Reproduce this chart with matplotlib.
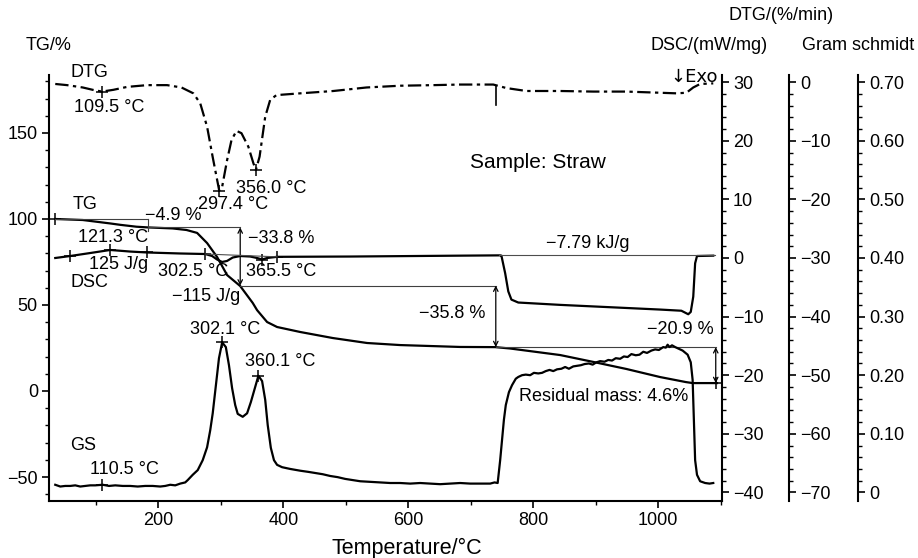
import matplotlib
matplotlib.use('Agg')
import matplotlib.pyplot as plt
from matplotlib.ticker import MultipleLocator, FuncFormatter

plt.rcParams['font.family'] = ['Liberation Sans', 'DejaVu Sans']
plt.rcParams['axes.unicode_minus'] = True

# --- data ------------------------------------------------------------------
# DTG (%/min), dash-dot curve
dtg_T = [35, 54, 79, 95, 109.5, 128, 150, 182, 214, 237, 256, 267, 278, 287,
         297.4, 302, 310, 317, 325, 333, 344, 352, 356, 362, 371, 379, 389,
         427, 480, 533, 587, 640, 683, 736, 757, 789, 843, 896, 949, 1003,
         1029, 1045, 1056, 1067, 1088]
dtg_val = [-0.3, -0.5, -0.9, -1.3, -1.6, -1.3, -0.8, -0.5, -0.5, -0.9, -1.9,
           -3.6, -7.6, -12.8, -18.5, -17.9, -13.3, -9.9, -8.3, -8.7, -11.0,
           -13.8, -15.0, -12.7, -5.9, -3.0, -2.2, -1.9, -1.5, -0.9, -0.6, -0.5,
           -0.4, -0.4, -1.0, -1.5, -1.5, -1.6, -1.6, -1.8, -1.9, -1.8, -0.9,
           -0.3, -0.2]
dtg_spike_T = [741, 741]
dtg_spike_val = [-0.6, -3.9]
dtg_peaks_T = [109.5, 297.4, 356.0]
dtg_peaks_val = [-1.6, -18.5, -15.0]

# TG (%)
tg_T = [35, 79, 123, 139, 165, 183, 223, 245, 262, 278, 294, 310, 331, 351,
        358, 374, 390, 427, 479, 534, 587, 683, 739, 763, 843, 896, 949, 1003,
        1044, 1055, 1094]
tg_val = [100, 99.4, 97.4, 96.6, 95.5, 95.1, 94.5, 93.6, 91.9, 86.0, 77.9,
          67.4, 61.0, 51.2, 47.0, 40.1, 37.2, 34.3, 30.8, 27.9, 26.7, 25.6,
          25.5, 24.7, 20.9, 16.9, 12.8, 8.1, 5.2, 4.6, 4.6]
tg_steps = [100, 95.1, 61.3, 25.5, 4.6]   # -4.9, -33.8, -35.8, -20.9 %
tg_step_T = [35, 183, 331, 740, 1092]

# DSC (mW/mg)
dsc_T = [35, 59, 91, 123, 155, 182, 235, 275, 286, 294, 302, 310, 319, 331,
         347, 358, 366, 374, 390, 507, 683, 747, 749, 755, 760, 765, 776, 843,
         923, 1003, 1037, 1048, 1052, 1056, 1059, 1062, 1088]
dsc_val = [0.0, 0.34, 0.85, 1.37, 1.1, 0.94, 0.77, 0.68, 0.34, -0.26, -0.68,
           -0.5, 0.08, 0.34, 0.25, 0.0, -0.26, 0.0, 0.2, 0.25, 0.4, 0.45, 0.4,
           -2.6, -5.7, -7.1, -7.6, -8.0, -8.4, -8.8, -9.0, -9.6, -9.2, -6.6,
           -0.9, 0.34, 0.4]
dsc_marks_T = [59, 123, 182, 275, 366, 390]
dsc_marks_val = [0.34, 1.37, 0.94, 0.68, -0.26, 0.2]
dsc_base_T = [745, 1090]
dsc_base_val = [0.45, 0.45]

# Gram schmidt
gs_T = [35, 43, 51, 59, 67, 75, 83, 91, 99, 111, 121, 131, 143, 155, 167, 179,
        191, 203, 211, 219, 227, 235, 243, 247, 255, 263, 271, 278, 283, 287,
        292, 297, 302.1, 308, 313, 318, 323, 327, 335, 342, 348, 355, 360.1,
        366, 371, 375, 380, 385, 390, 398, 411, 427, 440, 451, 463, 475, 487,
        499, 511, 523, 540, 555, 571, 587, 603, 619, 635, 651, 667, 683, 699,
        715, 731, 738, 743, 747, 750, 753, 756, 761, 766, 772, 776, 782, 788,
        795, 801, 808, 814, 820, 826, 832, 838, 845, 851, 857, 864, 870, 876,
        882, 889, 895, 901, 907, 914, 920, 926, 932, 939, 945, 951, 957, 964,
        970, 976, 982, 989, 995, 1001, 1008, 1012, 1015, 1018, 1022, 1027,
        1031, 1039, 1047, 1052, 1055, 1057, 1059, 1062, 1067, 1075, 1082,
        1088]
gs_val = [0.013, 0.010, 0.011, 0.011, 0.012, 0.010, 0.011, 0.012, 0.012,
          0.013, 0.011, 0.012, 0.011, 0.011, 0.010, 0.011, 0.011, 0.010,
          0.011, 0.013, 0.012, 0.015, 0.017, 0.021, 0.030, 0.038, 0.055,
          0.077, 0.106, 0.135, 0.182, 0.229, 0.256, 0.248, 0.217, 0.178,
          0.149, 0.134, 0.129, 0.135, 0.154, 0.180, 0.199, 0.190, 0.158,
          0.115, 0.076, 0.055, 0.047, 0.043, 0.040, 0.037, 0.035, 0.033,
          0.031, 0.028, 0.026, 0.023, 0.021, 0.019, 0.018, 0.017, 0.016,
          0.016, 0.015, 0.016, 0.015, 0.014, 0.015, 0.016, 0.015, 0.015,
          0.015, 0.017, 0.016, 0.055, 0.089, 0.124, 0.149, 0.171, 0.183,
          0.194, 0.197, 0.200, 0.201, 0.200, 0.204, 0.203, 0.204, 0.207,
          0.209, 0.207, 0.210, 0.211, 0.214, 0.211, 0.215, 0.216, 0.217,
          0.219, 0.220, 0.218, 0.222, 0.224, 0.223, 0.226, 0.225, 0.229,
          0.228, 0.232, 0.231, 0.236, 0.234, 0.235, 0.240, 0.238, 0.242,
          0.244, 0.243, 0.248, 0.247, 0.252, 0.248, 0.251, 0.248, 0.246,
          0.242, 0.235, 0.222, 0.192, 0.124, 0.055, 0.030, 0.019, 0.016,
          0.015, 0.016]
gs_marks_T = [110.5, 302.1, 360.1]
gs_marks_val = [0.013, 0.256, 0.199]

dsc_ticks = [-40, -30, -20, -10, 0, 10, 20, 30]
dtg_ticks = [-70, -60, -50, -40, -30, -20, -10, 0]
gs_ticks = [0.0, 0.1, 0.2, 0.3, 0.4, 0.5, 0.6, 0.7]

FS = 13
LW = 1.6

fig = plt.figure(figsize=(9.18, 5.58), dpi=100)
W, H = 918.0, 558.0
ax = fig.add_axes([49 / W, 1 - 501 / H, (722 - 49) / W, (501 - 75) / H])
ax_dsc = ax.twinx()
ax_dtg = ax.twinx()
ax_gs = ax.twinx()

ax.set_xlim(25, 1102)
ax.set_ylim(-63.95, 183.7)
ax_dsc.set_ylim(-41.47, 31.23)
ax_dtg.set_ylim(-71.47, 1.23)
ax_gs.set_ylim(-0.0147, 0.7123)

for a in (ax, ax_dsc, ax_dtg, ax_gs):
    a.spines['top'].set_visible(False)
    for s in a.spines.values():
        s.set_linewidth(1.5)
ax.spines['right'].set_visible(False)
for a in (ax_dsc, ax_dtg, ax_gs):
    a.spines['left'].set_visible(False)
    a.spines['bottom'].set_visible(False)
ax_dtg.spines['right'].set_position(('axes', (789 - 49) / 673.0))
ax_gs.spines['right'].set_position(('axes', (858 - 49) / 673.0))

# ticks
ax.xaxis.set_major_locator(MultipleLocator(200))
ax.xaxis.set_minor_locator(MultipleLocator(100))
ax.yaxis.set_major_locator(MultipleLocator(50))
ax.yaxis.set_minor_locator(MultipleLocator(10))
ax_dsc.set_yticks(dsc_ticks)
ax_dsc.yaxis.set_minor_locator(MultipleLocator(2))
ax_dtg.set_yticks(dtg_ticks)
ax_dtg.yaxis.set_minor_locator(MultipleLocator(2))
ax_gs.set_yticks(gs_ticks)
ax_gs.yaxis.set_minor_locator(MultipleLocator(0.02))
ax_gs.yaxis.set_major_formatter(
    FuncFormatter(lambda v, p: '0' if abs(v) < 1e-9 else '%.2f' % v))
for a in (ax, ax_dsc, ax_dtg, ax_gs):
    a.tick_params(which='major', direction='out', length=5, width=1.2,
                  labelsize=FS, pad=3)
    a.tick_params(which='minor', direction='out', length=3, width=1.0)

# curves
ax_dtg.plot(dtg_T, dtg_val, color='k', lw=LW, ls=(0, (6, 2, 1.5, 2)))
ax_dtg.plot(dtg_spike_T, dtg_spike_val, color='k', lw=1.2)
ax_dtg.plot(dtg_peaks_T, dtg_peaks_val, ls='none', marker='+', ms=8,
            mew=1.1, color='k')

ax.plot(tg_T, tg_val, color='k', lw=LW)
ax.plot(tg_step_T[0], tg_steps[0], ls='none', marker='+', ms=8, mew=1.1,
        color='k')

ax_dsc.plot(dsc_T, dsc_val, color='k', lw=LW)
ax_dsc.plot(dsc_marks_T, dsc_marks_val, ls='none', marker='+', ms=8,
            mew=1.1, color='k')
ax_dsc.plot(dsc_base_T, dsc_base_val, color='0.3', lw=0.8)
ax_dsc.plot([dsc_marks_T[3], dsc_marks_T[5]],
            [dsc_marks_val[3], dsc_marks_val[5]], color='0.3', lw=0.8)

ax_gs.plot(gs_T, gs_val, color='k', lw=LW)
ax_gs.plot(gs_marks_T, gs_marks_val, ls='none', marker='+', ms=8, mew=1.1,
           color='k')

# TG step construction
thin = dict(color='0.25', lw=0.8)
ax.plot([tg_step_T[0], tg_step_T[1]], [tg_steps[0], tg_steps[0]], **thin)
ax.plot([tg_step_T[1], tg_step_T[1]], [tg_steps[0], 93.0], **thin)
ax.plot([tg_step_T[1], tg_step_T[2]], [tg_steps[1], tg_steps[1]], **thin)
ax.plot([tg_step_T[2], tg_step_T[3]], [tg_steps[2], tg_steps[2]], **thin)
ax.plot([tg_step_T[3], tg_step_T[4]], [tg_steps[3], tg_steps[3]], **thin)
for i in (1, 2, 3):
    ax.annotate('', xy=(tg_step_T[i + 1], tg_steps[i + 1]),
                xytext=(tg_step_T[i + 1], tg_steps[i]),
                arrowprops=dict(arrowstyle='<->', color='k', lw=0.9,
                                shrinkA=0, shrinkB=0, mutation_scale=8))
ax.plot([tg_step_T[4]], [tg_steps[4]], ls='none', marker='+', ms=8,
        mew=1.1, color='k')

# annotations (placed in TG coordinates)
labels = [
    ('DTG', 89, 184.9), ('109.5 °C', 122, 164.9), ('297.4 °C', 320, 108.7),
    ('356.0 °C', 381, 117.8), ('TG', 83, 108.7), ('\u22124.9 %', 224, 102.3),
    ('121.3 °C', 128, 89.4), ('\u221233.8 %', 397, 88.4),
    ('125 J/g', 136, 73.3), ('302.5 °C', 255, 69.4), ('365.5 °C', 397, 69.4),
    ('DSC', 89, 62.8), ('\u2212115 J/g', 277, 54.8), ('GS', 79, -31.4),
    ('110.5 °C', 145, -45.5), ('302.1 °C', 307, 35.5),
    ('360.1 °C', 395, 17.0), ('\u22127.79 kJ/g', 887, 85.5),
    ('\u221235.8 %', 671, 45.2), ('\u221220.9 %', 1036, 35.5),
    ('Residual mass: 4.6%', 913, -3.3),
]
for txt, tx, ty in labels:
    ax.text(tx, ty, txt, ha='center', va='center', fontsize=FS)
ax.text(1057, 182.4, '\u2193Exo', ha='center', va='center', fontsize=FS,
        family=['DejaVu Sans'])
ax.text(807, 132.9, 'Sample: Straw', ha='center', va='center', fontsize=15)

# axis titles
fig.text(48.5 / W, 1 - 45.5 / H, 'TG/%', ha='center', va='center',
         fontsize=FS)
fig.text(781.5 / W, 1 - 15 / H, 'DTG/(%/min)', ha='center', va='center',
         fontsize=FS)
fig.text(709 / W, 1 - 45 / H, 'DSC/(mW/mg)', ha='center', va='center',
         fontsize=FS)
fig.text(858.5 / W, 1 - 45 / H, 'Gram schmidt', ha='center', va='center',
         fontsize=FS)
fig.text(406.5 / W, 1 - 548 / H, 'Temperature/°C', ha='center', va='center',
         fontsize=15.5)

fig.savefig('out.png', dpi=100)
